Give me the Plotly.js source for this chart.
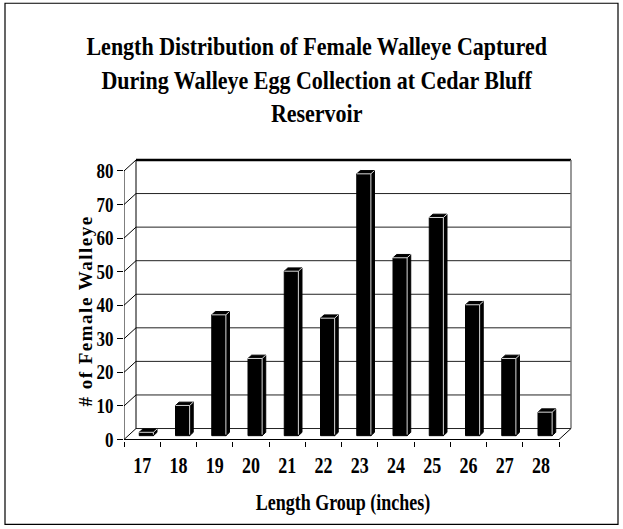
<!DOCTYPE html>
<html>
<head>
<meta charset="utf-8">
<script src="https://cdn.plot.ly/plotly-3.0.1.min.js"></script>
<style>html,body{margin:0;padding:0;background:#fff;}#chart{width:623px;height:529px;}</style>
</head>
<body>
<div id="chart"></div>
<script>
// ---- data ----
const lengthGroups = ['17','18','19','20','21','22','23','24','25','26','27','28'];
const femaleCounts = [1, 9, 36, 23, 49, 35, 78, 53, 65, 39, 23, 7];
const yTickValues = [0, 10, 20, 30, 40, 50, 60, 70, 80];

// ---- geometry (styling) ----
const W = 623, H = 529;
const L = 124, R = 573, T = 156, B = 441.5, ZERO_PX = 440;
const PX_PER_CAT = 36.25, PX_PER_UNIT = 3.3625;
const DX = 12 / PX_PER_CAT, DY = 11 / PX_PER_UNIT;   // depth offset in data units
const F0 = 0.35, F1 = 0.65, BW = 0.39;               // bar depth placement & width
const n = lengthGroups.length;
const idx = lengthGroups.map((_, i) => i);
const yMax = yTickValues[yTickValues.length - 1];

const xRange = [-0.5, -0.5 + (R - L) / PX_PER_CAT];
const yRange = [-(B - ZERO_PX) / PX_PER_UNIT, (ZERO_PX - T) / PX_PER_UNIT];

// ---- walls ----
const shapes = [];
function seg(x0, y0, x1, y1, color, width) {
  shapes.push({type: 'line', xref: 'x', yref: 'y', x0, y0, x1, y1, layer: 'below',
               line: {color: color, width: width}});
}
const xl0 = -0.5, xr0 = n - 0.5;
yTickValues.forEach(v => {
  const top = v === yMax;
  seg(xl0 + DX, v + DY, xr0 + DX, v + DY, top ? '#000' : '#222', top ? 2.5 : 1);
  seg(xl0, v, xl0 + DX, v + DY, '#000', 1);
});
seg(xl0 + DX, DY, xl0 + DX, yMax + DY, '#000', 1);        // back-left edge
seg(xr0 + DX, DY, xr0 + DX, yMax + DY, '#777', 1.5);      // back-right edge
seg(xl0, 0, xl0, yMax, '#000', 1);                        // front-left axis
seg(xl0, 0, xr0, 0, '#000', 1);                           // floor front edge
seg(xr0, 0, xr0 + DX, DY, '#000', 1);                     // floor right edge

// outer border
const pw = R - L, ph = B - T;
shapes.push({type: 'rect', xref: 'paper', yref: 'paper',
  x0: (5 - L) / pw, x1: (618 - L) / pw, y0: (B - 525) / ph, y1: (B - 3) / ph,
  line: {color: '#000', width: 1.2}, layer: 'below'});

// ---- bars ----
const b0 = F0 * DY, ddx = (F1 - F0) * DX, ddy = (F1 - F0) * DY;
const frontX = idx.map(i => i + F0 * DX);
const sideX = [], sideY = [], topX = [], topY = [], edgeX = [], edgeY = [];
femaleCounts.forEach((v, i) => {
  const xl = frontX[i] - BW / 2, xr = frontX[i] + BW / 2, yt = b0 + v;
  sideX.push(xr, xr + ddx, xr + ddx, xr, xr, null);
  sideY.push(b0, b0 + ddy, yt + ddy, yt, b0, null);
  topX.push(xl, xr, xr + ddx, xl + ddx, xl, null);
  topY.push(yt, yt, yt + ddy, yt + ddy, yt, null);
  edgeX.push(xr, xr, xl, null, xr, xr + ddx, null);
  edgeY.push(b0 + 0.3, yt, yt, null, yt, yt + ddy, null);
});

const font = {family: '"Liberation Serif", "Times New Roman", serif', color: '#000', weight: 'bold'};

const traces = [
  {type: 'bar', x: frontX, y: femaleCounts, base: femaleCounts.map(() => b0), width: BW,
   marker: {color: '#000', line: {color: '#000', width: 1}}, hoverinfo: 'skip', showlegend: false},
  {type: 'scatter', mode: 'lines', x: sideX, y: sideY, fill: 'toself', fillcolor: '#000',
   line: {color: '#000', width: 1}, hoverinfo: 'skip', showlegend: false},
  {type: 'scatter', mode: 'lines', x: topX, y: topY, fill: 'toself', fillcolor: '#000',
   line: {color: '#000', width: 1}, hoverinfo: 'skip', showlegend: false},
  {type: 'scatter', mode: 'lines', x: edgeX, y: edgeY, connectgaps: false,
   line: {color: '#d8d8d8', width: 1}, hoverinfo: 'skip', showlegend: false}
];

const layout = {
  width: W, height: H,
  margin: {l: L, r: W - R, t: T, b: H - B, pad: 0},
  paper_bgcolor: '#fff', plot_bgcolor: 'rgba(0,0,0,0)',
  showlegend: false,
  bargap: 0,
  title: {
    text: 'Length Distribution of Female Walleye Captured<br>During Walleye Egg Collection at Cedar Bluff<br>Reservoir',
    font: Object.assign({}, font, {size: 22}),
    xref: 'container', x: 317 / W, xanchor: 'center',
    yref: 'container', y: 1 - 40 / H, yanchor: 'top'
  },
  xaxis: {
    range: xRange, fixedrange: true,
    tickmode: 'array', tickvals: idx, ticktext: lengthGroups,
    ticks: '', showline: false, showgrid: false, zeroline: false,
    tickfont: Object.assign({}, font, {size: 18}),
    ticklabelstandoff: 11,
    minor: {tickmode: 'array', tickvals: idx.concat([n]).map(i => i - 0.5),
            ticks: 'outside', ticklen: 5, tickwidth: 1, tickcolor: '#000', showgrid: false},
    title: {text: 'Length Group (inches)', font: Object.assign({}, font, {size: 18}), standoff: 14}
  },
  yaxis: {
    range: yRange, fixedrange: true,
    tickmode: 'array', tickvals: yTickValues,
    ticks: 'outside', ticklen: 6, tickwidth: 1, tickcolor: '#000',
    showline: false, showgrid: false, zeroline: false,
    tickfont: Object.assign({}, font, {size: 17}),
    title: {text: '# of Female Walleye', font: Object.assign({}, font, {size: 19}), standoff: 10}
  },
  shapes: shapes
};

// text in the reference is drawn taller than wide; stretch glyphs vertically
function stretch(el, s) {
  const bb = el.getBBox();
  const cy = bb.y + bb.height / 2;
  const tr = el.getAttribute('transform') || '';
  el.setAttribute('transform', tr + ' translate(0,' + cy + ') scale(1,' + s + ') translate(0,' + (-cy) + ')');
}
function moveCenter(el, cx, cy) {
  const r = el.getBoundingClientRect();
  const dx = cx - (r.left + r.width / 2), dy = cy - (r.top + r.height / 2);
  const tr = el.getAttribute('transform') || '';
  el.setAttribute('transform', 'translate(' + dx + ',' + dy + ') ' + tr);
}

Plotly.newPlot('chart', traces, layout, {staticPlot: true, displayModeBar: false}).then(() => {
  const gd = document.getElementById('chart');
  gd.querySelectorAll('.xtick text').forEach(t => stretch(t, 1.3));
  gd.querySelectorAll('.ytick text').forEach(t => stretch(t, 1.2));
  const title = gd.querySelector('.gtitle');
  if (title) { stretch(title, 1.17); moveCenter(title, 317, 80); }
  const xt = gd.querySelector('.xtitle');
  if (xt) { stretch(xt, 1.3); moveCenter(xt, 343, 502); }
  const yt = gd.querySelector('.ytitle');
  if (yt) { yt.style.letterSpacing = '1.5px'; moveCenter(yt, 85, 311); }
});
</script>
</body>
</html>
